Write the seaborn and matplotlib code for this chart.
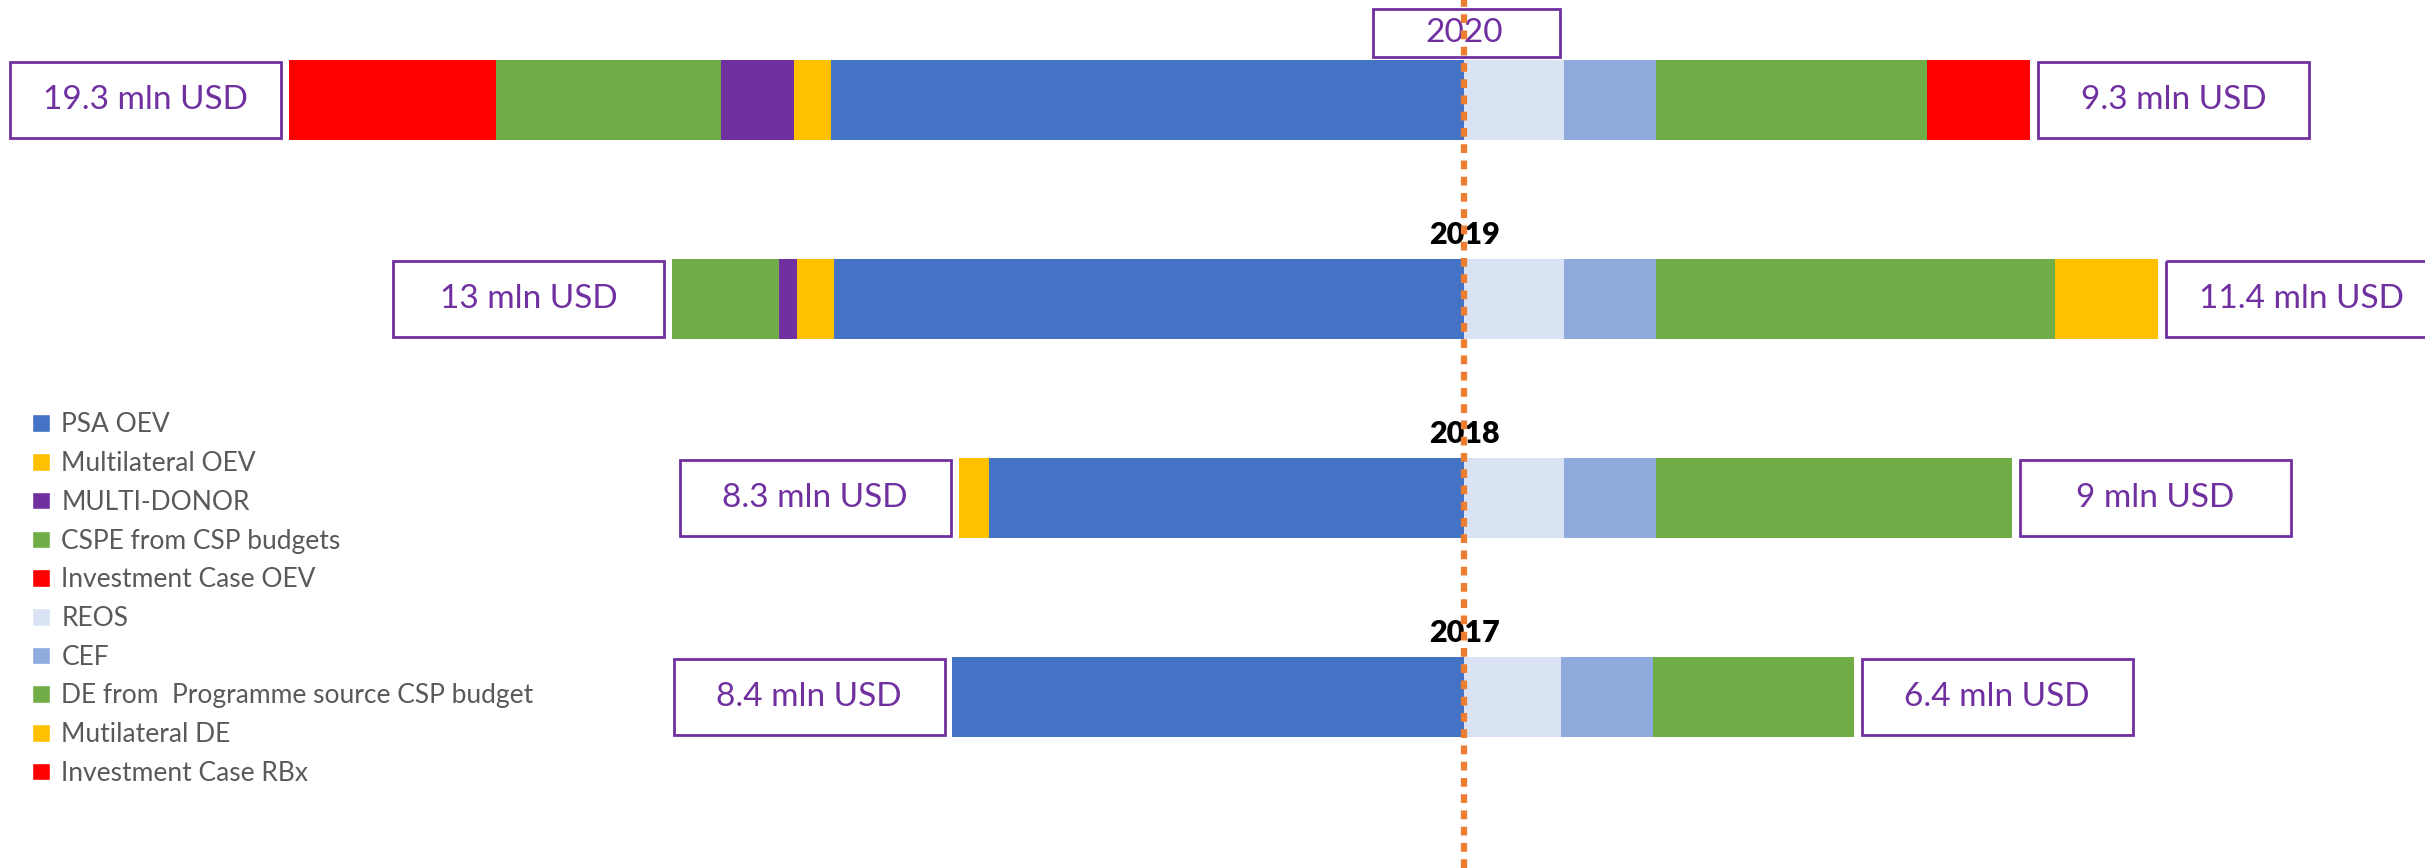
import matplotlib
matplotlib.use("Agg")
import matplotlib.pyplot as plt
import pandas as pd
import seaborn as sns
from matplotlib.patches import Patch, Rectangle

# values in mln USD
years = ["2020", "2019", "2018", "2017"]

# left side (OEV), from the centre outwards
psa_oev = [10.4, 10.35, 7.8, 8.4]
multilateral_oev = [0.6, 0.6, 0.5, 0.0]
multi_donor = [1.2, 0.3, 0.0, 0.0]
cspe_csp = [3.7, 1.75, 0.0, 0.0]
investment_oev = [3.4, 0.0, 0.0, 0.0]

# right side, from the centre outwards
reos = [1.65, 1.65, 1.65, 1.6]
cef = [1.5, 1.5, 1.5, 1.5]
de_programme = [4.45, 6.55, 5.85, 3.3]
multilateral_de = [0.0, 1.7, 0.0, 0.0]
investment_rbx = [1.7, 0.0, 0.0, 0.0]

left_totals = ["19.3 mln USD", "13 mln USD", "8.3 mln USD", "8.4 mln USD"]
right_totals = ["9.3 mln USD", "11.4 mln USD", "9 mln USD", "6.4 mln USD"]

left_series = [
    ("PSA OEV", psa_oev, "#4472C4"),
    ("Multilateral OEV", multilateral_oev, "#FFC000"),
    ("MULTI-DONOR", multi_donor, "#7030A0"),
    ("CSPE from CSP budgets", cspe_csp, "#70AD47"),
    ("Investment Case OEV", investment_oev, "#FF0000"),
]
right_series = [
    ("REOS", reos, "#DAE3F3"),
    ("CEF", cef, "#8FAADC"),
    ("DE from  Programme source CSP budget", de_programme, "#70AD47"),
    ("Mutilateral DE", multilateral_de, "#FFC000"),
    ("Investment Case RBx", investment_rbx, "#FF0000"),
]

PURPLE = "#7030A0"
FONT = "Lato"

sns.set_style("white")
plt.rcParams["font.family"] = [FONT, "DejaVu Sans"]

fig = plt.figure(figsize=(24.25, 8.68), dpi=100)
ax = fig.add_axes([0, 0, 1, 1])

bar_h = 0.4


def cumulative(series, sign):
    frames = []
    running = [0.0] * len(years)
    for name, vals, color in series:
        running = [r + v for r, v in zip(running, vals)]
        frames.append((name, color, pd.DataFrame({"year": years, "end": [sign * r for r in running]})))
    return frames


left_layers = cumulative(left_series, -1)
right_layers = cumulative(right_series, 1)

# stacked bars: draw outermost cumulative first, inner layers on top
for layers in (left_layers, right_layers):
    for name, color, df in reversed(layers):
        sns.barplot(data=df, x="end", y="year", order=years, color=color,
                    saturation=1, width=bar_h, linewidth=0, errorbar=None,
                    ax=ax, zorder=2)

left_ends = left_layers[-1][2]["end"].tolist()
right_ends = right_layers[-1][2]["end"].tolist()

box_w = 4.45
gap = 0.13
box_h = 0.38
for i in range(len(years)):
    # left total box
    x1 = left_ends[i] - gap
    ax.add_patch(Rectangle((x1 - box_w, i - box_h / 2), box_w, box_h, fill=False,
                           edgecolor=PURPLE, lw=2, zorder=3))
    ax.text(x1 - box_w / 2, i, left_totals[i], ha="center", va="center",
            color=PURPLE, fontsize=24, zorder=4)
    # right total box
    x2 = right_ends[i] + gap
    ax.add_patch(Rectangle((x2, i - box_h / 2), box_w, box_h, fill=False,
                           edgecolor=PURPLE, lw=2, zorder=3))
    ax.text(x2 + box_w / 2, i, right_totals[i], ha="center", va="center",
            color=PURPLE, fontsize=24, zorder=4)

# year labels
for i, yr in enumerate(years):
    if i == 0:
        ax.add_patch(Rectangle((-1.5, i - 0.337 - 0.12), 3.08, 0.24, fill=False,
                               edgecolor=PURPLE, lw=2, zorder=3))
        ax.text(0, i - 0.337, yr, ha="center", va="center", color=PURPLE,
                fontsize=24, zorder=4)
    else:
        ax.text(0, i - 0.32, yr, ha="center", va="center", color="black",
                fontsize=22, fontweight="heavy", zorder=4)

ax.axvline(0, color="#ED7D31", lw=4.5, linestyle=(0, (1.4, 1.2)), zorder=10)

handles = [Patch(facecolor=c, label=n) for n, _, c in left_series + right_series]
ax.legend(handles=handles, loc="upper left", bbox_to_anchor=(0.009, 0.537),
          frameon=False, fontsize=19, handlelength=0.65, handleheight=0.65,
          handletextpad=0.45, labelspacing=0.52, labelcolor="#595959",
          borderaxespad=0)

ax.set_xlim(-24.04, 15.78)
ax.set_ylim(3.859, -0.5025)
ax.axis("off")

fig.savefig("out.png", dpi=100)
